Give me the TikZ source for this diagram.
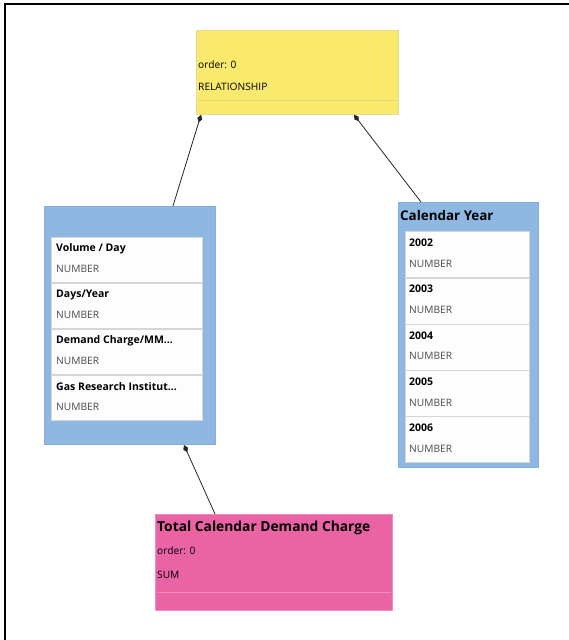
\documentclass[tikz,border=0pt]{standalone}
\usepackage{fontspec}
\setmainfont{Open Sans}
\usetikzlibrary{arrows.meta}
\definecolor{relyellow}{HTML}{F9E96C}
\definecolor{relborder}{HTML}{E6DA8C}
\definecolor{relline}{HTML}{E8D870}
\definecolor{tblblue}{HTML}{8EB8E2}
\definecolor{tblborder}{HTML}{82AEDC}
\definecolor{itemborder}{HTML}{D6D6D6}
\definecolor{itemfill}{HTML}{FDFDFD}
\definecolor{sumpink}{HTML}{E963A5}
\definecolor{sumborder}{HTML}{F08CC0}
\definecolor{sumline}{HTML}{EE8CBE}
\definecolor{typegray}{HTML}{4A4A4A}
\tikzset{
  boxnode/.style={draw, anchor=north west, inner sep=0pt, line width=0.8pt},
  relbox/.style={boxnode, fill=relyellow, draw=relborder},
  tblbox/.style={boxnode, fill=tblblue, draw=tblborder, line width=1pt},
  itembox/.style={boxnode, fill=itemfill, draw=itemborder, line width=1.4pt},
  sumbox/.style={boxnode, fill=sumpink, draw=sumborder},
  smalltxt/.style={anchor=west, inner sep=0pt, font=\fontsize{10.2pt}{12pt}\selectfont},
  titletxt/.style={anchor=west, inner sep=0pt, font=\fontsize{10.5pt}{12pt}\selectfont\bfseries},
  typetxt/.style={anchor=west, inner sep=0pt, text=typegray, font=\fontsize{10.2pt}{12pt}\selectfont},
  bigtitle/.style={anchor=west, inner sep=0pt, font=\fontsize{13.8pt}{16pt}\selectfont\bfseries},
  conn/.style={draw=black!85, line width=0.8pt, -{Diamond[length=8pt,width=5pt]}}
}
\begin{document}
\begin{tikzpicture}[x=1pt,y=-1pt]
\useasboundingbox (0,0) rectangle (569,640);
\fill[white] (0,0) rectangle (569,640);
\draw[line width=1.8pt, black] (569,4) -- (5,4) -- (5,640);

% relationship box
\node[relbox, minimum width=202pt, minimum height=84pt] (rel) at (196,30) {};
\node[smalltxt] (relorder) at (198,65) {order: 0};
\node[smalltxt] (reltype) at (198,87) {RELATIONSHIP};
\draw[relline, line width=0.6pt] ([xshift=2pt,yshift=-70pt]rel.north west) -- ([xshift=-2pt,yshift=-70pt]rel.north east);

% left table
\node[tblbox, minimum width=171pt, minimum height=238pt] (lt) at (44,206) {};
\node[itembox, minimum width=151pt, minimum height=45pt] (li1) at (51,237) {};
\node[itembox, minimum width=151pt, minimum height=45pt] (li2) at (51,283) {};
\node[itembox, minimum width=151pt, minimum height=45pt] (li3) at (51,329) {};
\node[itembox, minimum width=151pt, minimum height=45pt] (li4) at (51,375) {};
\node[titletxt] (li1t) at (56,249) {Volume / Day};
\node[typetxt] (li1n) at (56,269) {NUMBER};
\node[titletxt] (li2t) at (56,295) {Days/Year};
\node[typetxt] (li2n) at (56,315) {NUMBER};
\node[titletxt] (li3t) at (56,341) {Demand Charge/MM...};
\node[typetxt] (li3n) at (56,361) {NUMBER};
\node[titletxt] (li4t) at (56,387) {Gas Research Institut...};
\node[typetxt] (li4n) at (56,407) {NUMBER};

% right table
\node[tblbox, minimum width=140pt, minimum height=265pt] (rt) at (398,202) {};
\node[bigtitle, font=\fontsize{13.4pt}{16pt}\selectfont\bfseries] (rtt) at (400,215) {Calendar Year};
\node[itembox, minimum width=124pt, minimum height=46pt] (ri1) at (405,231) {};
\node[itembox, minimum width=124pt, minimum height=46pt] (ri2) at (405,278) {};
\node[itembox, minimum width=124pt, minimum height=46pt] (ri3) at (405,324) {};
\node[itembox, minimum width=124pt, minimum height=46pt] (ri4) at (405,370) {};
\node[itembox, minimum width=124pt, minimum height=46pt] (ri5) at (405,416) {};
\node[titletxt] (ri1t) at (409,243) {2002};
\node[typetxt] (ri1n) at (409,264) {NUMBER};
\node[titletxt] (ri2t) at (409,289) {2003};
\node[typetxt] (ri2n) at (409,310) {NUMBER};
\node[titletxt] (ri3t) at (409,336) {2004};
\node[typetxt] (ri3n) at (409,356) {NUMBER};
\node[titletxt] (ri4t) at (409,382) {2005};
\node[typetxt] (ri4n) at (409,403) {NUMBER};
\node[titletxt] (ri5t) at (409,428) {2006};
\node[typetxt] (ri5n) at (409,449) {NUMBER};

% sum box
\node[sumbox, minimum width=237pt, minimum height=96pt] (sum) at (155,514) {};
\node[bigtitle] (sumt) at (157,528) {Total Calendar Demand Charge};
\node[smalltxt] (sumorder) at (157,551) {order: 0};
\node[smalltxt] (sumtype) at (157,575) {SUM};
\draw[sumline, line width=0.6pt] ([xshift=2pt,yshift=-78pt]sum.north west) -- ([xshift=-2pt,yshift=-78pt]sum.north east);

% connector end points
\coordinate (ltop) at ([xshift=129pt]lt.north west);
\coordinate (relL) at ([xshift=5pt]rel.south west);
\coordinate (rtop) at ([xshift=23pt]rt.north west);
\coordinate (relR) at ([xshift=158pt]rel.south west);
\coordinate (stop) at ([xshift=60pt]sum.north west);
\coordinate (lbot) at ([xshift=140pt]lt.south west);

\draw[conn] (ltop) -- (relL);
\draw[conn] (rtop) -- (relR);
\draw[conn] (stop) -- (lbot);
\end{tikzpicture}
\end{document}
